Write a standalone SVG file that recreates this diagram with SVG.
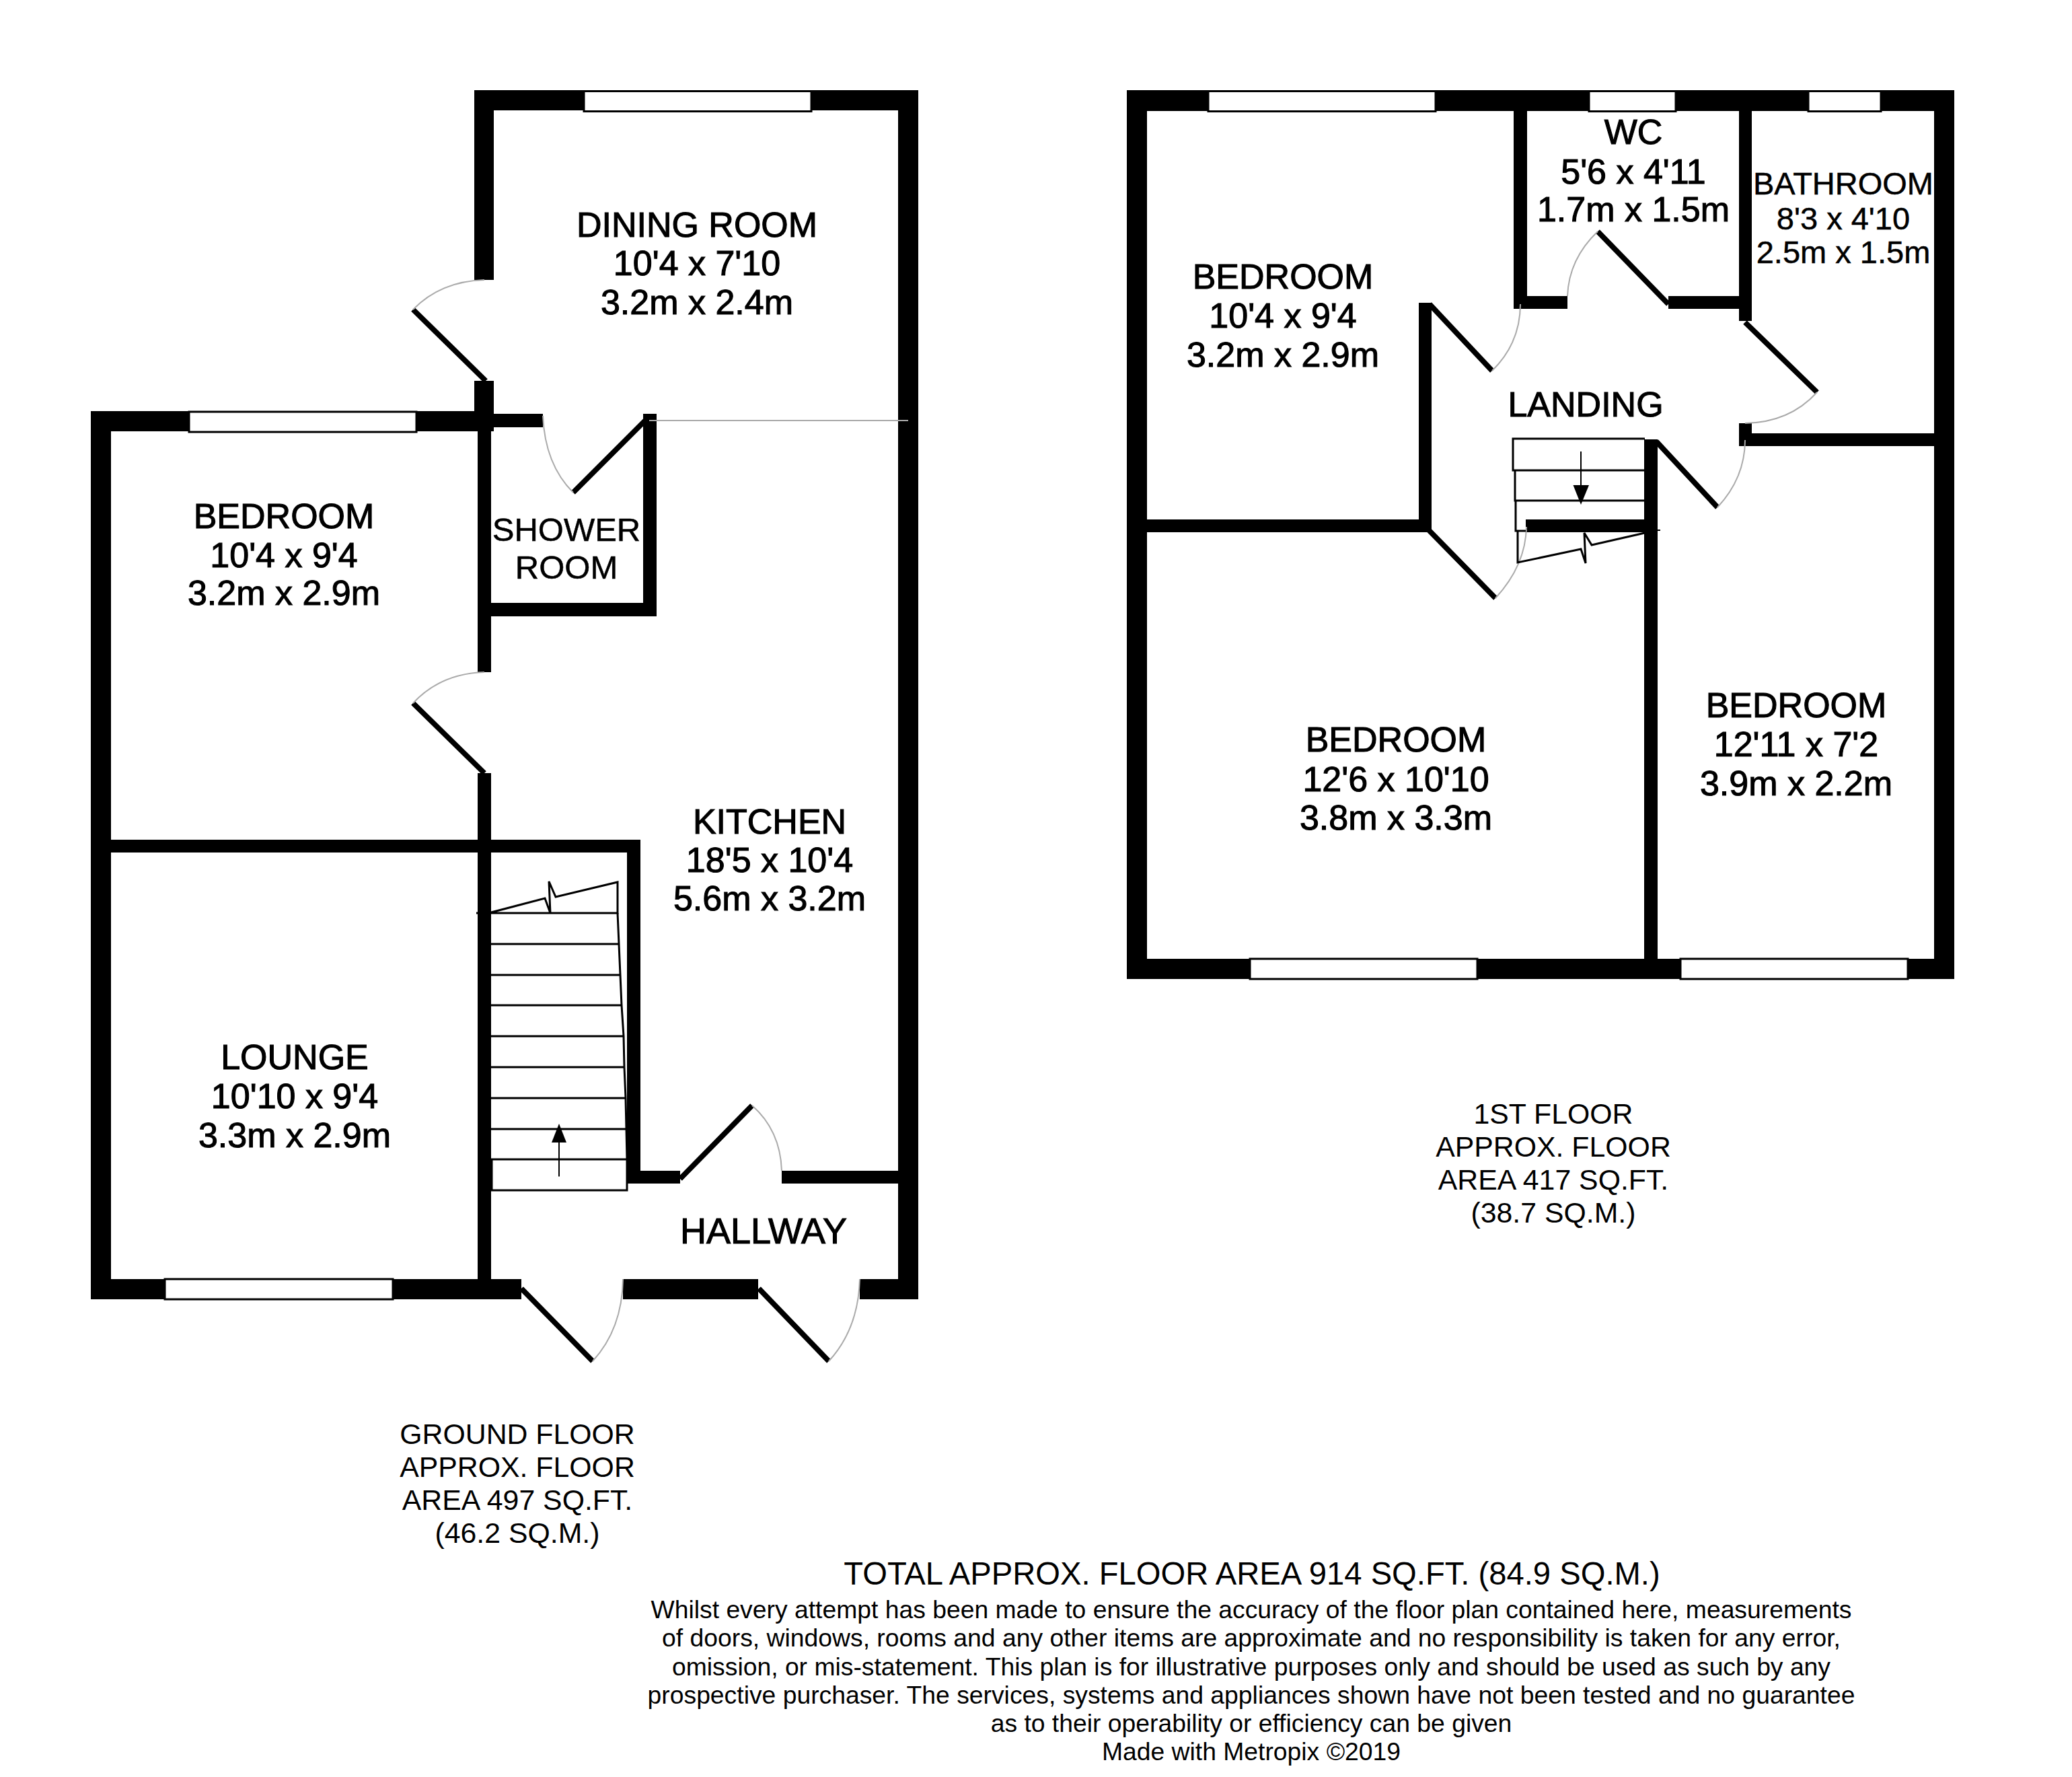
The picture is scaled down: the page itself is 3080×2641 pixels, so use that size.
<svg xmlns="http://www.w3.org/2000/svg" width="3080" height="2641" viewBox="0 0 3080 2641">
<style>
text{font-family:"Liberation Sans",Arial,sans-serif;text-anchor:middle;fill:#000}
.r{font-size:52px;stroke:#000;stroke-width:1.100px}
.s{font-size:47px;stroke:#000;stroke-width:.5px}
.c{font-size:42.800px;fill:#111}
.d{font-size:37.300px;fill:#111}
.w{fill:#000}
.win{fill:#fff;stroke:#000;stroke-width:3}
.leaf{fill:none;stroke:#000;stroke-width:8}
.arc{fill:none;stroke:#aaa;stroke-width:2}
.st{fill:none;stroke:#000;stroke-width:3}
</style>
<rect width="3080" height="2641" fill="#fff"/>
<g id="ground-walls" class="w">
<rect x="705" y="134" width="660" height="30"/>
<rect x="705" y="134" width="29" height="282"/>
<rect x="1335" y="134" width="30" height="1797"/>
<rect x="705" y="566" width="29" height="75"/>
<rect x="135" y="611" width="599" height="30"/>
<rect x="734" y="615" width="73" height="20"/>
<rect x="135" y="611" width="30" height="1320"/>
<rect x="710" y="641" width="20" height="358"/>
<rect x="956" y="615" width="20" height="301"/>
<rect x="710" y="896" width="266" height="20"/>
<rect x="710" y="1149" width="20" height="782"/>
<rect x="165" y="1248" width="787" height="19"/>
<rect x="932" y="1248" width="20" height="511"/>
<rect x="932" y="1740" width="79" height="19"/>
<rect x="1162" y="1740" width="174" height="19"/>
<rect x="135" y="1901" width="640" height="30"/>
<rect x="926" y="1901" width="201" height="30"/>
<rect x="1278" y="1901" width="87" height="30"/>
</g>
<g id="ground-windows" class="win">
<rect x="868" y="135.500" width="338" height="30"/>
<rect x="281" y="612" width="338" height="30"/>
<rect x="245" y="1901" width="339" height="30"/>
</g>
<g id="ground-doors">
<path class="leaf" d="M614 460L722 566M614 1045L720 1149M959 625L852 732M1011 1752L1118 1643M775 1915L881 2023M1128 1915L1232 2023"/>
<path class="arc" d="M720 416Q655 418 614 460M720 999Q655 1001 614 1045M807 618Q810 690 852 732M1118 1643Q1160 1680 1162 1740M881 2023Q925 1975 926 1901M1232 2023Q1276 1975 1278 1901M965 625H1350"/>
</g>
<g id="ground-stairs">
<path class="st" d="M730 1357H918V1311L826 1333L816 1310L818 1357M730 1356L810 1335L818 1357M708 1357H730"/>
<path class="st" d="M918 1357L920 1403H730M920 1403L922 1449H730M922 1449L924 1494H730M924 1494L927 1540H730M927 1540L928 1586H730M928 1586L930 1632H730M930 1632L931 1678H730M931 1678L932 1723H730M932 1723V1769H731V1723" />
<path d="M831 1748.500V1698" stroke="#000" stroke-width="2" fill="none"/>
<polygon points="831,1670 820,1698 842,1698" fill="#000"/>
</g>
<g id="first-walls" class="w">
<rect x="1675" y="134" width="1230" height="31"/>
<rect x="1675" y="134" width="30" height="1321"/>
<rect x="2875" y="134" width="30" height="1321"/>
<rect x="2250" y="165" width="20" height="294"/>
<rect x="2270" y="440" width="60" height="19"/>
<rect x="2480" y="440" width="105" height="19"/>
<rect x="2585" y="165" width="19" height="312"/>
<rect x="2585" y="629" width="19" height="34"/>
<rect x="2604" y="644" width="271" height="19"/>
<rect x="2109" y="450" width="19" height="341"/>
<rect x="1705" y="772" width="423" height="19"/>
<rect x="2268" y="772" width="177" height="19"/>
<rect x="2444" y="653" width="20" height="772"/>
<rect x="1675" y="1425" width="1230" height="30"/>
</g>
<g id="first-windows" class="win">
<rect x="1796" y="135.500" width="338" height="30"/>
<rect x="2362" y="135.500" width="129" height="30"/>
<rect x="2688" y="135.500" width="108" height="30"/>
<rect x="1858" y="1425" width="338" height="30"/>
<rect x="2498" y="1425" width="338" height="30"/>
</g>
<g id="first-doors">
<path class="leaf" d="M2480 452L2375 344M2594 479L2701 583M2462 656L2553 754M2125 452L2218 551M2124 788L2223 889"/>
<path class="arc" d="M2375 344Q2332 385 2330 440M2701 583Q2660 628 2594 629M2553 754Q2594 710 2594 654M2218 551Q2260 510 2260 452M2223 889Q2268 840 2269 783"/>
</g>
<g id="first-stairs">
<path class="st" d="M2445 652H2249V699H2445M2252 699V744H2445M2253 744V789H2268M2256 789V836L2350 816L2357 837L2355 792L2366 810L2445 792"/>
<path d="M2445 788H2468" stroke="#000" stroke-width="2"/>
<path d="M2350 671V721" stroke="#000" stroke-width="2" fill="none"/>
<polygon points="2350,750 2338.500,721 2362,721" fill="#000"/>
</g>
<g id="dining-room" class="r"><text x="1036" y="352">DINING ROOM</text><text x="1036" y="409">10'4 x 7'10</text><text x="1036" y="467">3.2m x 2.4m</text></g>
<g id="bedroom-ground" class="r"><text x="422" y="785">BEDROOM</text><text x="422" y="843">10'4 x 9'4</text><text x="422" y="899">3.2m x 2.9m</text></g>
<g id="shower-room" class="s" style="font-size:49px"><text x="842" y="804">SHOWER</text><text x="842" y="860">ROOM</text></g>
<g id="kitchen" class="r"><text x="1144" y="1239">KITCHEN</text><text x="1144" y="1296">18'5 x 10'4</text><text x="1144" y="1353">5.6m x 3.2m</text></g>
<g id="lounge" class="r"><text x="438" y="1589">LOUNGE</text><text x="438" y="1647">10'10 x 9'4</text><text x="438" y="1705">3.3m x 2.9m</text></g>
<g id="hallway" class="r" style="font-size:54px"><text x="1135" y="1848">HALLWAY</text></g>
<g id="bedroom-1" class="r"><text x="1907" y="429">BEDROOM</text><text x="1907" y="487">10'4 x 9'4</text><text x="1907" y="545">3.2m x 2.9m</text></g>
<g id="wc" class="r"><text x="2428" y="214">WC</text><text x="2428" y="273">5'6 x 4'11</text><text x="2428" y="329">1.7m x 1.5m</text></g>
<g id="bathroom" class="s"><text x="2740" y="289">BATHROOM</text><text x="2740" y="341">8'3 x 4'10</text><text x="2740" y="391">2.5m x 1.5m</text></g>
<g id="landing" class="r"><text x="2357" y="619">LANDING</text></g>
<g id="bedroom-2" class="r"><text x="2075" y="1117">BEDROOM</text><text x="2075" y="1176">12'6 x 10'10</text><text x="2075" y="1233">3.8m x 3.3m</text></g>
<g id="bedroom-3" class="r"><text x="2670" y="1066">BEDROOM</text><text x="2670" y="1124">12'11 x 7'2</text><text x="2670" y="1182">3.9m x 2.2m</text></g>
<g id="ground-caption" class="c"><text x="769" y="2146">GROUND FLOOR</text><text x="769" y="2195">APPROX. FLOOR</text><text x="769" y="2244">AREA 497 SQ.FT.</text><text x="769" y="2293">(46.2 SQ.M.)</text></g>
<g id="first-caption" class="c"><text x="2309" y="1670">1ST FLOOR</text><text x="2309" y="1719">APPROX. FLOOR</text><text x="2309" y="1768">AREA 417 SQ.FT.</text><text x="2309" y="1817">(38.7 SQ.M.)</text></g>
<g id="disclaimer" class="d">
<text x="1861" y="2355" style="font-size:47.200px">TOTAL APPROX. FLOOR AREA 914 SQ.FT. (84.9 SQ.M.)</text>
<text x="1860" y="2405">Whilst every attempt has been made to ensure the accuracy of the floor plan contained here, measurements</text>
<text x="1860" y="2447">of doors, windows, rooms and any other items are approximate and no responsibility is taken for any error,</text>
<text x="1860" y="2490">omission, or mis-statement. This plan is for illustrative purposes only and should be used as such by any</text>
<text x="1860" y="2532">prospective purchaser. The services, systems and appliances shown have not been tested and no guarantee</text>
<text x="1860" y="2574">as to their operability or efficiency can be given</text>
<text x="1860" y="2616">Made with Metropix ©2019</text>
</g>
</svg>
